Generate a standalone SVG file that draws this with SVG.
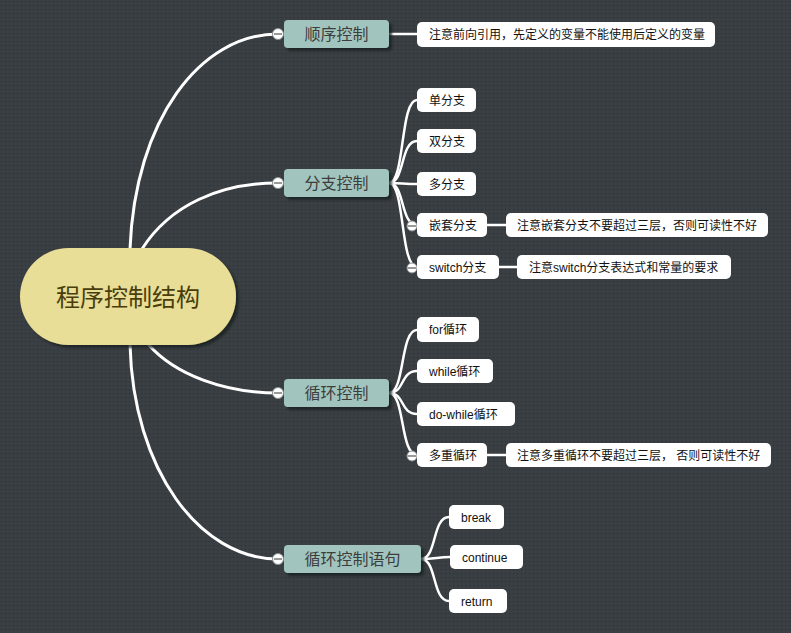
<svg xmlns="http://www.w3.org/2000/svg" width="791" height="633" viewBox="0 0 791 633">
<defs>
<pattern id="dots" width="4" height="4" patternUnits="userSpaceOnUse">
<rect width="4" height="4" fill="#3a3f43"/>
<rect x="1" y="1" width="1.2" height="1.2" fill="#2d3135"/>
</pattern>
<filter id="sh" x="-20%" y="-20%" width="140%" height="160%">
<feDropShadow dx="3" dy="3" stdDeviation="1.2" flood-color="#1e2124" flood-opacity="0.8"/>
</filter>
</defs>
<style>
.main rect{fill:#a1c5be;filter:url(#sh)}
.main text{font-family:"Noto Sans CJK SC","Microsoft YaHei",sans-serif;font-size:16px;fill:#3d3d3d;text-anchor:middle}
.sub rect{fill:#ffffff}
.sub text{font-family:"Liberation Sans","Noto Sans CJK SC",sans-serif;font-size:12px;fill:#111111}
.c1{fill:none;stroke:#ffffff;stroke-width:3;stroke-linecap:round}
.c2{fill:none;stroke:#ffffff;stroke-width:2.5;stroke-linecap:round}
.tog{fill:#ffffff;stroke:#8a8f93;stroke-width:1}
.togl{stroke:#555;stroke-width:1.2}
</style>
<rect width="791" height="633" fill="url(#dots)"/>

<g id="connectors">
<path class="c1" d="M130,249 C135,120 200,34 278,34"/>
<path class="c1" d="M142,249 C170,205 220,183 278,183"/>
<path class="c1" d="M148,344 C175,375 225,393 278,393"/>
<path class="c1" d="M130,344 C133,470 200,559 278,559"/>
<path class="c2" d="M389,34 L417,34"/>
<path class="c2" d="M389,183 C405,183 400,100 417,100"/>
<path class="c2" d="M389,183 C405,183 400,141 417,141"/>
<path class="c2" d="M389,183 C400,183 405,184 417,184"/>
<path class="c2" d="M389,183 C405,183 400,225 417,225"/>
<path class="c2" d="M389,183 C405,183 400,267 417,267"/>
<path class="c2" d="M487,225 L506,225"/>
<path class="c2" d="M499,267 L517,267"/>
<path class="c2" d="M389,393 C405,393 400,330 417,330"/>
<path class="c2" d="M389,393 C405,393 400,371 417,371"/>
<path class="c2" d="M389,393 C405,393 400,414 417,414"/>
<path class="c2" d="M389,393 C405,393 400,455 417,455"/>
<path class="c2" d="M487,455 L506,455"/>
<path class="c2" d="M421,559 C437,559 432,517 449,517"/>
<path class="c2" d="M421,559 C435,559 438,557 450,557"/>
<path class="c2" d="M421,559 C437,559 432,601 449,601"/>
</g>

<g id="root">
<rect x="20" y="248" width="216" height="97" rx="48.5" fill="#e8de97" filter="url(#sh)"/>
<text x="128" y="306" font-family="'Noto Sans CJK SC','Microsoft YaHei',sans-serif" font-size="24" fill="#4a3d0c" text-anchor="middle">程序控制结构</text>
</g>

<g id="t1" class="main"><rect x="284" y="20" width="105" height="28" rx="4"/><text x="336.5" y="40">顺序控制</text></g>
<g id="t2" class="main"><rect x="284" y="169" width="105" height="28" rx="4"/><text x="336.5" y="189">分支控制</text></g>
<g id="t3" class="main"><rect x="284" y="379" width="105" height="28" rx="4"/><text x="336.5" y="399">循环控制</text></g>
<g id="t4" class="main"><rect x="284" y="545" width="137" height="28" rx="4"/><text x="352.5" y="565">循环控制语句</text></g>

<g id="tog1"><circle class="tog" cx="278" cy="34" r="5.5"/><line class="togl" x1="274" y1="34" x2="282" y2="34"/></g>
<g id="tog2"><circle class="tog" cx="278" cy="183" r="5.5"/><line class="togl" x1="274" y1="183" x2="282" y2="183"/></g>
<g id="tog3"><circle class="tog" cx="278" cy="393" r="5.5"/><line class="togl" x1="274" y1="393" x2="282" y2="393"/></g>
<g id="tog4"><circle class="tog" cx="278" cy="559" r="5.5"/><line class="togl" x1="274" y1="559" x2="282" y2="559"/></g>
<g id="tog5"><circle class="tog" cx="412" cy="226" r="5"/><line class="togl" x1="408" y1="226" x2="416" y2="226"/></g>
<g id="tog6"><circle class="tog" cx="412" cy="268" r="5"/><line class="togl" x1="408" y1="268" x2="416" y2="268"/></g>
<g id="tog7"><circle class="tog" cx="412" cy="456" r="5"/><line class="togl" x1="408" y1="456" x2="416" y2="456"/></g>

<g id="n1" class="sub"><rect x="417" y="22" width="298" height="25" rx="5"/><text x="429" y="39">注意前向引用，先定义的变量不能使用后定义的变量</text></g>
<g id="n2" class="sub"><rect x="417" y="88" width="59" height="24" rx="5"/><text x="429" y="105">单分支</text></g>
<g id="n3" class="sub"><rect x="417" y="129" width="59" height="24" rx="5"/><text x="429" y="146">双分支</text></g>
<g id="n4" class="sub"><rect x="417" y="172" width="59" height="24" rx="5"/><text x="429" y="189">多分支</text></g>
<g id="n5" class="sub"><rect x="417" y="213" width="70" height="24" rx="5"/><text x="429" y="230">嵌套分支</text></g>
<g id="n6" class="sub"><rect x="506" y="213" width="262" height="24" rx="5"/><text x="517" y="230">注意嵌套分支不要超过三层，否则可读性不好</text></g>
<g id="n7" class="sub"><rect x="417" y="255" width="82" height="24" rx="5"/><text x="429" y="272">switch分支</text></g>
<g id="n8" class="sub"><rect x="517" y="255" width="214" height="24" rx="5"/><text x="529" y="272">注意switch分支表达式和常量的要求</text></g>
<g id="n9" class="sub"><rect x="417" y="317" width="62" height="25" rx="5"/><text x="429" y="334">for循环</text></g>
<g id="n10" class="sub"><rect x="417" y="359" width="76" height="24" rx="5"/><text x="429" y="376">while循环</text></g>
<g id="n11" class="sub"><rect x="417" y="402" width="98" height="24" rx="5"/><text x="429" y="419">do-while循环</text></g>
<g id="n12" class="sub"><rect x="417" y="443" width="70" height="24" rx="5"/><text x="429" y="460">多重循环</text></g>
<g id="n13" class="sub"><rect x="506" y="443" width="265" height="24" rx="5"/><text x="517" y="460">注意多重循环不要超过三层， 否则可读性不好</text></g>
<g id="n14" class="sub"><rect x="449" y="505" width="55" height="24" rx="5"/><text x="461" y="522">break</text></g>
<g id="n15" class="sub"><rect x="450" y="545" width="73" height="24" rx="5"/><text x="462" y="562">continue</text></g>
<g id="n16" class="sub"><rect x="449" y="589" width="58" height="24" rx="5"/><text x="461" y="606">return</text></g>
</svg>
